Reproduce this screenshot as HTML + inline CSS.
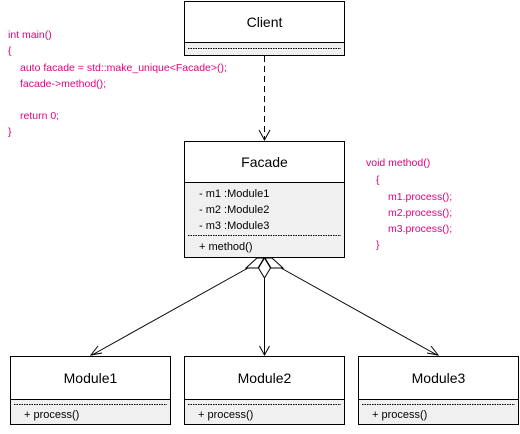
<!DOCTYPE html>
<html><head><style>
body{margin:0;width:520px;height:429px;background:#fff;overflow:hidden;font-family:"Liberation Sans","DejaVu Sans",sans-serif;}
svg text{font-family:"Liberation Sans","DejaVu Sans",sans-serif;}
</style></head><body>
<svg width="520" height="429" viewBox="0 0 520 429" xmlns="http://www.w3.org/2000/svg">
<!-- Client -->
<rect x="184.5" y="1.5" width="160" height="54" fill="#fff" stroke="#000"/>
<rect x="184.5" y="42.5" width="160" height="13" fill="#f0f0f0" stroke="#000"/>
<line x1="188" y1="48.5" x2="341" y2="48.5" stroke="#000" stroke-dasharray="1.5,1"/>
<text x="264.5" y="27" font-size="14" text-anchor="middle">Client</text>
<!-- dashed arrow -->
<line x1="264.5" y1="56" x2="264.5" y2="139" stroke="#000" stroke-dasharray="6,4"/>
<polyline points="259,130 264.5,140 270,130" fill="none" stroke="#000"/>
<!-- Facade -->
<rect x="184.5" y="141.5" width="160" height="116" fill="#f0f0f0" stroke="#000"/>
<rect x="184.5" y="141.5" width="160" height="41" fill="#fff" stroke="#000"/>
<text x="264.5" y="167" font-size="14" text-anchor="middle">Facade</text>
<text x="199" y="197" font-size="11">- m1 :Module1</text>
<text x="199" y="213" font-size="11">- m2 :Module2</text>
<text x="199" y="229" font-size="11">- m3 :Module3</text>
<line x1="188" y1="235.5" x2="341" y2="235.5" stroke="#000" stroke-dasharray="1.5,1"/>
<text x="199" y="250" font-size="11">+ method()</text>
<!-- diamonds -->
<polygon points="257,258 264,258 258,268 246,268" fill="#fff" stroke="#000"/>
<polygon points="272,258 265,258 271,268 283,268" fill="#fff" stroke="#000"/>
<polygon points="264.5,258 270.5,268 264.5,278 258.5,268" fill="#fff" stroke="#000"/>
<line x1="248" y1="268" x2="92" y2="355" stroke="#000"/>
<polyline points="98,346 91,355 102,353" fill="none" stroke="#000"/>
<line x1="264.5" y1="278" x2="264.5" y2="355" stroke="#000"/>
<polyline points="259.5,346 264.5,355 269.5,346" fill="none" stroke="#000"/>
<line x1="281" y1="268" x2="437" y2="355" stroke="#000"/>
<polyline points="427,353 438,355 431,346" fill="none" stroke="#000"/>
<!-- Modules -->
<g>
<rect x="10.5" y="356.5" width="160" height="68" fill="#f0f0f0" stroke="#000"/>
<rect x="10.5" y="356.5" width="160" height="43" fill="#fff" stroke="#000"/>
<line x1="14" y1="404.5" x2="167" y2="404.5" stroke="#000" stroke-dasharray="1.5,1"/>
<text x="90.5" y="383" font-size="14" text-anchor="middle">Module1</text>
<text x="24" y="418" font-size="11">+ process()</text>
</g>
<g>
<rect x="184.5" y="356.5" width="160" height="68" fill="#f0f0f0" stroke="#000"/>
<rect x="184.5" y="356.5" width="160" height="43" fill="#fff" stroke="#000"/>
<line x1="188" y1="404.5" x2="341" y2="404.5" stroke="#000" stroke-dasharray="1.5,1"/>
<text x="264.5" y="383" font-size="14" text-anchor="middle">Module2</text>
<text x="198" y="418" font-size="11">+ process()</text>
</g>
<g>
<rect x="358.5" y="356.5" width="160" height="68" fill="#f0f0f0" stroke="#000"/>
<rect x="358.5" y="356.5" width="160" height="43" fill="#fff" stroke="#000"/>
<line x1="362" y1="404.5" x2="515" y2="404.5" stroke="#000" stroke-dasharray="1.5,1"/>
<text x="438.5" y="383" font-size="14" text-anchor="middle">Module3</text>
<text x="372" y="418" font-size="11">+ process()</text>
</g>
<!-- code notes -->
<g fill="#e6007e" font-size="10.5">
<text x="8" y="38">int main()</text>
<text x="8" y="54">{</text>
<text x="20" y="71">auto facade = std::make_unique&lt;Facade&gt;();</text>
<text x="20" y="87">facade-&gt;method();</text>
<text x="20" y="119">return 0;</text>
<text x="8" y="135">}</text>
<text x="366" y="166">void method()</text>
<text x="376" y="183">{</text>
<text x="388" y="200">m1.process();</text>
<text x="388" y="216">m2.process();</text>
<text x="388" y="232">m3.process();</text>
<text x="376" y="248">}</text>
</g>
</svg>
</body></html>
